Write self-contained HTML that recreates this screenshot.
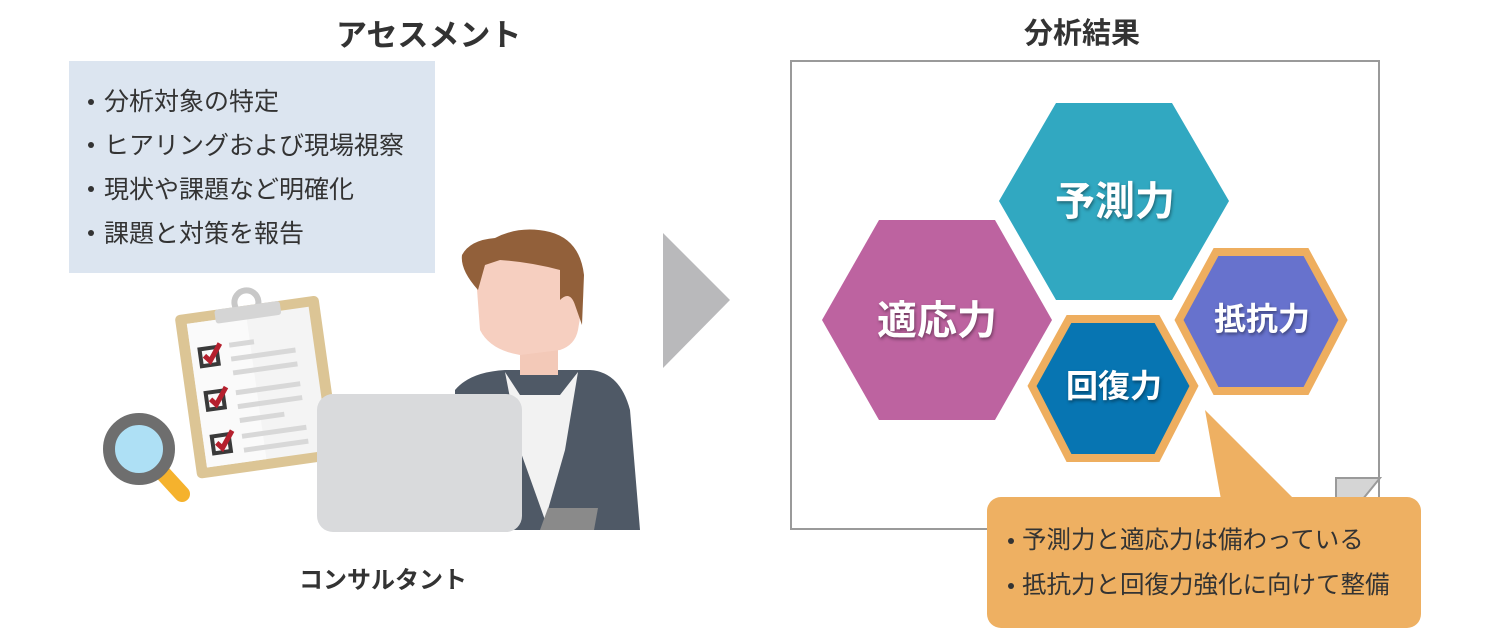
<!DOCTYPE html>
<html><head><meta charset="utf-8"><style>
html,body{margin:0;padding:0;background:#fff;}
body{width:1490px;height:640px;overflow:hidden;position:relative;font-family:"Liberation Sans","Noto Sans CJK JP",sans-serif;}
.t{position:absolute;white-space:nowrap;color:#333;}
.b{position:absolute;width:6px;height:6px;border-radius:3px;background:#333;}
</style></head><body>
<svg width="1490" height="640" style="position:absolute;left:0;top:0" xmlns="http://www.w3.org/2000/svg">
<rect x="69" y="61" width="366" height="212" fill="#dce5f0"/>
<polygon points="663,233 730,300 663,368" fill="#b9b9bb"/>
<g transform="rotate(-8 255 385)">
<rect x="185" y="305" width="145" height="165" rx="5" fill="#dcc595"/>
<rect x="196" y="315" width="123" height="145" fill="#f4f4f4"/>
<rect x="196" y="315" width="60" height="145" fill="#fafafa"/>
<circle cx="258" cy="302" r="12" fill="none" stroke="#c8c8c8" stroke-width="6"/>
<rect x="225" y="305" width="66" height="14" rx="3" fill="#d5d5d5"/>
<g fill="none" stroke="#3a3a3a" stroke-width="4">
<rect x="205" y="342" width="17" height="17"/><rect x="205" y="386" width="17" height="17"/><rect x="205" y="430" width="17" height="17"/></g>
<g fill="none" stroke="#b5202e" stroke-width="5"><path d="M209 349 l5 6 l12 -16"/><path d="M209 393 l5 6 l12 -16"/><path d="M209 437 l5 6 l12 -16"/></g>
<g stroke="#d8d8d8" stroke-width="5"><path d="M235 342h25M235 356h65M235 370h65M235 390h65M235 404h65M235 418h45M235 434h65M235 448h65"/></g>
</g>
<line x1="160" y1="470" x2="182" y2="494" stroke="#f5b22d" stroke-width="16" stroke-linecap="round"/>
<circle cx="139" cy="449" r="30" fill="#aee0f5" stroke="#6e6e6e" stroke-width="12"/>
<path d="M455 390 Q470 372 505 370 L590 370 Q620 372 630 410 L640 530 L455 530 Z" fill="#4f5966"/>
<path d="M505 372 L520 395 L560 395 L578 372 L565 450 L545 520 L520 450 Z" fill="#f2f2f2"/>
<rect x="520" y="325" width="38" height="50" fill="#f3c9b8"/>
<path d="M475 262 Q475 245 500 238 Q540 228 565 240 Q585 255 583 300 L578 330 Q575 345 560 350 L520 355 Q490 350 480 330 Z" fill="#f6cfc0"/>
<path d="M462 255 Q470 240 495 238 Q520 225 550 232 Q580 240 584 275 L582 325 L575 305 Q570 290 560 300 L560 270 Q530 262 500 260 L485 265 L478 290 Q460 270 462 255 Z" fill="#92603a"/>
<path d="M548 508 L598 508 L594 530 L540 530 Z" fill="#8a8a8a"/>
<rect x="317" y="394" width="205" height="138" rx="16" fill="#d9dadc"/>
<rect x="791" y="61" width="588" height="468" fill="#fff" stroke="#9a9a9a" stroke-width="2"/>
<polygon points="1336,478 1380,478 1358,505 1336,505" fill="#d5d5d5" stroke="#9a9a9a" stroke-width="2"/>
<polygon points="999,201 1056,103 1172,103 1229,201 1172,300 1056,300" fill="#31a8c1"/>
<polygon points="822,320 879,220 995,220 1052,320 995,420 879,420" fill="#bd63a0"/>
<polygon points="1179,320 1216,252 1306,252 1343,320 1306,391 1216,391" fill="#6772cd" stroke="#eeae5f" stroke-width="8" stroke-linejoin="miter"/>
<polygon points="1032,386 1069,319 1157,319 1194,386 1157,458 1069,458" fill="#0775b2" stroke="#eeae5f" stroke-width="8"/>
<polygon points="1205,410 1222,505 1300,505" fill="#eeb062"/>
<rect x="987" y="497" width="434" height="131" rx="14" fill="#eeb062"/>
</svg>
<div class="t" style="left:336px;top:10px;font-size:31px;font-weight:bold;">アセスメント</div>
<div class="t" style="left:1024px;top:10px;font-size:29px;font-weight:bold;">分析結果</div>
<div class="b" style="left:88px;top:99px"></div><div class="b" style="left:88px;top:142px"></div><div class="b" style="left:88px;top:186px"></div><div class="b" style="left:88px;top:230px"></div>
<div class="t" style="left:104px;top:80px;font-size:25px;line-height:44px;">分析対象の特定<br>ヒアリングおよび現場視察<br>現状や課題など明確化<br>課題と対策を報告</div>
<div class="t" style="left:299px;top:560px;font-size:24px;font-weight:bold;">コンサルタント</div>
<div class="t" style="left:1055px;top:169px;font-size:40px;font-weight:bold;color:#fff;text-shadow:1px 2px 3px rgba(0,0,0,.4);">予測力</div>
<div class="t" style="left:877px;top:288px;font-size:40px;font-weight:bold;color:#fff;text-shadow:1px 2px 3px rgba(0,0,0,.4);">適応力</div>
<div class="t" style="left:1214px;top:294px;font-size:32px;font-weight:bold;color:#fff;text-shadow:1px 2px 3px rgba(0,0,0,.4);">抵抗力</div>
<div class="t" style="left:1066px;top:361px;font-size:32px;font-weight:bold;color:#fff;text-shadow:1px 2px 3px rgba(0,0,0,.4);">回復力</div>
<div class="b" style="left:1008px;top:538px"></div><div class="b" style="left:1008px;top:583px"></div>
<div class="t" style="left:1022px;top:518px;font-size:24.5px;line-height:45px;">予測力と適応力は備わっている<br>抵抗力と回復力強化に向けて整備</div>
</body></html>
